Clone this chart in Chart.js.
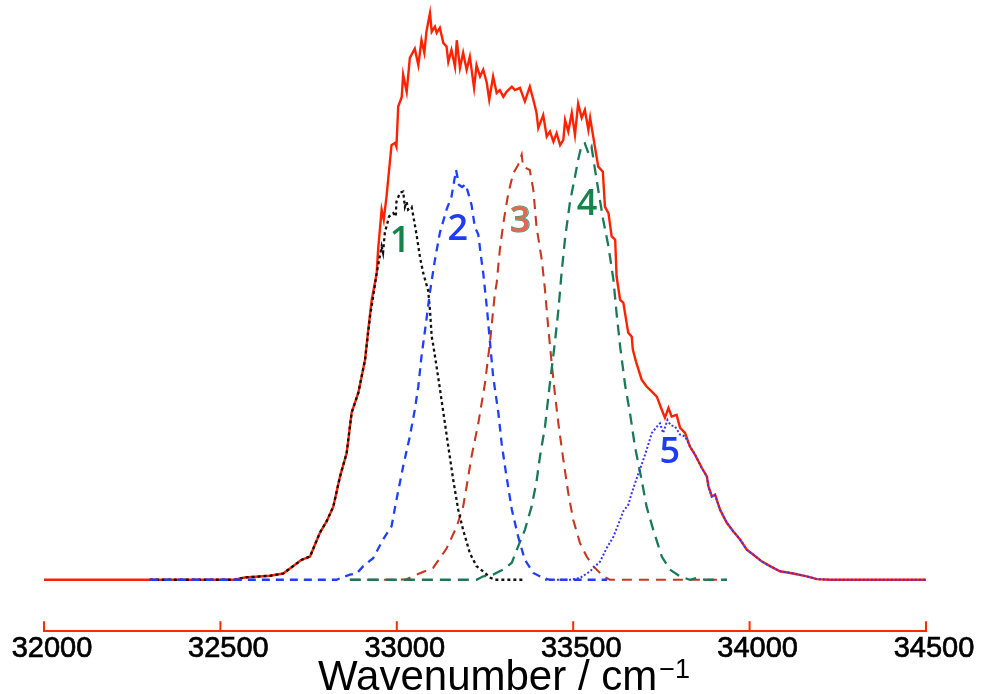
<!DOCTYPE html>
<html><head><meta charset="utf-8">
<script src="https://cdn.jsdelivr.net/npm/chart.js@4.4.1/dist/chart.umd.min.js"></script>
<style>html,body{margin:0;padding:0;background:#fff;overflow:hidden}canvas{display:block}</style>
</head><body>
<canvas id="c" width="981" height="694"></canvas>
<script>
// ---- data (wavenumber / cm^-1, intensity in arbitrary units) ----
const xTicks = [32000, 32500, 33000, 33500, 34000, 34500];
const axisTitleText = 'Wavenumber / cm';
const axisTitleSup = '\u22121';
const peakNames = ['1', '2', '3', '4', '5'];

const sumWn = [32000,32541,32569,32640,32678,32730,32754,32782,32801,32820,
32839,32858,32872,32891,32910,32919,32929,32943,32947,32957,
32963,32971,32985,32995,32999,33004,33014,33018,33028,33037,
33051,33061,33070,33078,33084,33094,33099,33108,33113,33122,
33132,33141,33146,33155,33165,33170,33179,33188,33198,33207,
33219,33226,33236,33245,33255,33262,33273,33283,33292,33302,
33311,33326,33335,33349,33363,33377,33387,33396,33401,33415,
33425,33434,33444,33453,33463,33472,33477,33486,33496,33505,
33514,33524,33533,33543,33548,33557,33562,33571,33584,33590,
33600,33609,33619,33623,33633,33642,33656,33666,33669,33678,
33694,33708,33723,33737,33751,33760,33770,33779,33793,33803,
33817,33831,33845,33864,33879,33883,33893,33902,33916,33935,
33954,33973,33992,34011,34035,34058,34086,34124,34162,34191,
34228,34500];
const sumI = [0,0,0.4,0.7,1.1,3.5,4.1,8.3,10.3,12.9,
18.2,22.4,29.5,33.0,38.8,44.1,49.4,54.1,58.2,65.3,
63.5,67.7,76.7,77.1,76.4,83.5,85.2,89.1,86.1,92.1,
93.7,90.8,95.2,93.0,96.7,100,96.7,97.6,96.5,97.4,
94.7,94.1,91.4,93.5,90.5,95.2,90.3,93.0,90.0,92.3,
86.8,90.8,88.8,90.0,87.7,84.7,88.8,85.9,86.4,85.2,
86.1,87.0,86.4,86.8,84.4,87.0,84.7,82.4,79.7,82.0,
78.2,79.1,77.3,78.8,76.7,77.6,81.1,79.1,82.4,78.5,
84.0,81.5,82.9,79.4,81.5,78.1,76.2,72.9,72.0,65.8,
64.7,60.6,60.0,53.5,49.4,48.9,43.6,42.9,40.6,38.5,
35.3,34.1,33.2,32.3,30.0,28.6,30.3,28.8,29.1,26.8,
25.9,23.5,22.1,19.8,18.2,16.5,14.7,15.0,12.4,10.1,
8.5,7.1,5.3,4.4,3.2,2.4,1.5,1.1,0.6,0.1,
0,0];

const p1Wn = [32300,32541,32569,32640,32678,32730,32754,32782,32801,32820,
32839,32858,32872,32891,32910,32924,32933,32943,32957,32961,
32966,32978,32990,32997,32999,33009,33018,33023,33028,33032,
33042,33047,33056,33066,33075,33089,33094,33099,33103,33117,
33132,33146,33160,33174,33188,33207,33226,33250,33264,33278,33363];
const p1I = [0,0,0.4,0.7,1.1,3.5,4.1,8.3,10.3,12.9,
18.2,22.4,29.5,33.0,38.8,46.4,50.0,54.1,58.8,57.7,
61.2,64.1,64.7,64.1,66.7,68.3,68.5,65.8,66.7,65.3,
65.8,64.1,60.9,56.8,54.1,51.0,47.6,42.9,41.5,35.9,
29.5,23.5,17.6,12.4,8.8,4.7,2.4,1.2,0.4,0,0];

const p2Wn = [32300,32829,32867,32886,32905,32933,32961,32985,32999,33018,
33037,33051,33061,33070,33084,33094,33108,33122,33141,33155,
33168,33176,33185,33195,33204,33212,33221,33231,33240,33245,
33255,33264,33273,33288,33297,33311,33326,33344,33363,33387,
33415,33434,33596];
const p2I = [0,0,0.9,1.1,2.4,3.8,7.1,9.4,14.1,20.0,
25.3,30.0,34.1,39.4,45.9,50.8,56.4,61.2,65.3,67.6,
72.3,69.7,69.3,69.8,67.9,66.1,62.3,60.9,56.4,54.1,
48.2,42.0,35.9,29.4,24.1,18.2,12.4,7.6,3.5,1.2,
0.3,0,0];

const p3Wn = [32867,33009,33028,33056,33103,33141,33170,33188,33198,33212,
33231,33250,33264,33278,33283,33292,33302,33316,33330,33344,
33354,33358,33377,33387,33396,33411,33420,33429,33439,33448,
33458,33472,33486,33500,33519,33538,33557,33585,33604,33936];
const p3I = [0,0,0.1,0.9,2.1,5.5,9.4,12.9,16.5,21.8,
27.6,34.7,41.8,50.6,52.3,58.2,62.9,68.2,71.7,73.2,
75.0,72.9,72.3,68.8,62.3,56.4,51.2,44.7,38.2,32.9,
27.6,21.2,15.3,10.6,6.5,4.1,2.4,0.6,0,0];

const p4Wn = [32867,33226,33245,33273,33302,33326,33344,33363,33382,33396,
33406,33420,33434,33448,33458,33467,33477,33491,33505,33514,
33524,33533,33543,33552,33562,33571,33585,33600,33614,33623,
33633,33647,33661,33675,33694,33708,33727,33751,33774,33803,
33831,33850,33874,33935];
const p4I = [0,0,0.6,0.9,1.8,3.0,5.9,8.8,12.9,17.3,
21.8,27.0,34.7,41.8,47.6,54.1,60.3,66.7,71.1,74.1,
76.7,77.0,75.3,76.4,72.3,68.8,63.5,58.8,52.9,47.0,
41.2,34.4,29.4,23.5,17.6,12.9,8.8,4.1,1.8,0.6,
0,0.3,0,0];

const p5Wn = [33420,33491,33519,33548,33576,33595,33614,33633,33642,33656,
33666,33680,33694,33708,33723,33737,33746,33755,33767,33776,
33789,33803,33817,33831,33845,33864,33879,33883,33893,33902,
33916,33935,33954,33973,33992,34011,34035,34058,34086,34124,
34162,34191,34228,34500];
const p5I = [0,0,0.3,1.5,3.2,5.6,7.6,10.6,12.1,13.2,
15.3,17.9,20.3,22.9,25.9,27.0,27.6,25.9,28.2,27.3,
27.0,25.6,25.3,23.5,22.1,19.8,18.2,16.5,14.7,15.0,
12.4,10.1,8.5,7.1,5.3,4.4,3.2,2.4,1.5,1.1,
0.6,0.1,0,0];

// ---- label anchors (data coordinates) ----
const peakLabelWn = [33009, 33173, 33349, 33539, 33774];
const peakLabelI = [59.6, 61.7, 63.1, 66.1, 22.4];
const peakLabelColor = ['#13854a', '#1e3cf5', '#e2694f', '#13854a', '#1e3cf5'];

function pts(xs, ys) { return xs.map((x, i) => ({ x: x, y: ys[i] })); }

const AXIS_RED = '#ff2a00';
const FONT = '"Liberation Sans", Arial, Helvetica, sans-serif';

const tickMarks = {
  id: 'tickMarks',
  afterDraw(chart) {
    const s = chart.scales.x, ctx = chart.ctx, b = chart.chartArea.bottom;
    ctx.save();
    ctx.strokeStyle = AXIS_RED; ctx.lineWidth = 2;
    s.ticks.forEach(t => {
      const px = s.getPixelForValue(t.value);
      ctx.beginPath(); ctx.moveTo(px, b); ctx.lineTo(px, b - 10); ctx.stroke();
    });
    ctx.restore();
  }
};

const axisTitle = {
  id: 'axisTitle',
  afterDraw(chart) {
    const ctx = chart.ctx, a = chart.chartArea;
    ctx.save();
    ctx.fillStyle = '#000';
    ctx.textBaseline = 'alphabetic'; ctx.textAlign = 'left';
    ctx.font = '42px ' + FONT;
    const w1 = ctx.measureText(axisTitleText).width;
    ctx.font = '27px ' + FONT;
    const w2 = ctx.measureText(axisTitleSup).width;
    const cx = (a.left + a.right) / 2 + 19;
    const x0 = cx - (w1 + w2 + 2) / 2;
    const base = chart.height - 4;
    ctx.font = '42px ' + FONT;
    ctx.fillText(axisTitleText, x0, base);
    ctx.font = '27px ' + FONT;
    ctx.fillText(axisTitleSup, x0 + w1 + 2, base - 12);
    ctx.restore();
  }
};

const peakLabels = {
  id: 'peakLabels',
  afterDatasetsDraw(chart) {
    const ctx = chart.ctx, xs = chart.scales.x, ys = chart.scales.y;
    ctx.save();
    ctx.font = '600 36px "Open Sans", "Noto Sans", sans-serif';
    ctx.textAlign = 'center'; ctx.textBaseline = 'middle';
    peakNames.forEach((n, i) => {
      const px = xs.getPixelForValue(peakLabelWn[i]);
      const py = ys.getPixelForValue(peakLabelI[i]);
      if (n === '3') {
        ctx.lineWidth = 1.2; ctx.strokeStyle = '#2fa58c';
        ctx.strokeText(n, px + 0.6, py);
      }
      ctx.fillStyle = peakLabelColor[i];
      ctx.fillText(n, px, py);
    });
    ctx.restore();
  }
};

new Chart(document.getElementById('c'), {
  type: 'line',
  data: {
    datasets: [
      { label: '5', data: pts(p5Wn, p5I), borderColor: '#3535ff', borderWidth: 2, borderDash: [2, 2] },
      { label: '2', data: pts(p2Wn, p2I), borderColor: '#1f3fff', borderWidth: 2.3, borderDash: [8, 6] },
      { label: '1', data: pts(p1Wn, p1I), borderColor: '#111111', borderWidth: 2.3, borderDash: [3, 3] },
      { label: '4', data: pts(p4Wn, p4I), borderColor: '#1a7a58', borderWidth: 2.3, borderDash: [11, 7] },
      { label: '3', data: pts(p3Wn, p3I), borderColor: '#c8371f', borderWidth: 2.1, borderDash: [10, 7] },
      { label: 'sum', data: pts(sumWn, sumI), borderColor: '#ff2200', borderWidth: 2.4 }
    ]
  },
  options: {
    responsive: false,
    animation: false,
    devicePixelRatio: 1,
    layout: { padding: { left: 44, right: 55, top: 0, bottom: 28 } },
    elements: { point: { radius: 0 }, line: { tension: 0, fill: false } },
    plugins: { legend: { display: false }, tooltip: { enabled: false } },
    scales: {
      x: {
        type: 'linear', min: xTicks[0], max: xTicks[xTicks.length - 1],
        afterBuildTicks: (s) => { s.ticks = xTicks.map(v => ({ value: v })); },
        ticks: {
          padding: 0, labelOffset: 8, color: '#000', maxRotation: 0, autoSkip: false,
          font: { family: FONT, size: 29 },
          textStrokeColor: '#000', textStrokeWidth: 0.7,
          callback: (v) => String(v)
        },
        grid: { display: true, drawOnChartArea: false, drawTicks: false, color: 'rgba(0,0,0,0)' },
        border: { display: true, color: AXIS_RED, width: 2 }
      },
      y: { display: false, min: -9.08, max: 102.3 }
    }
  },
  plugins: [tickMarks, axisTitle, peakLabels]
});
</script>
</body></html>
